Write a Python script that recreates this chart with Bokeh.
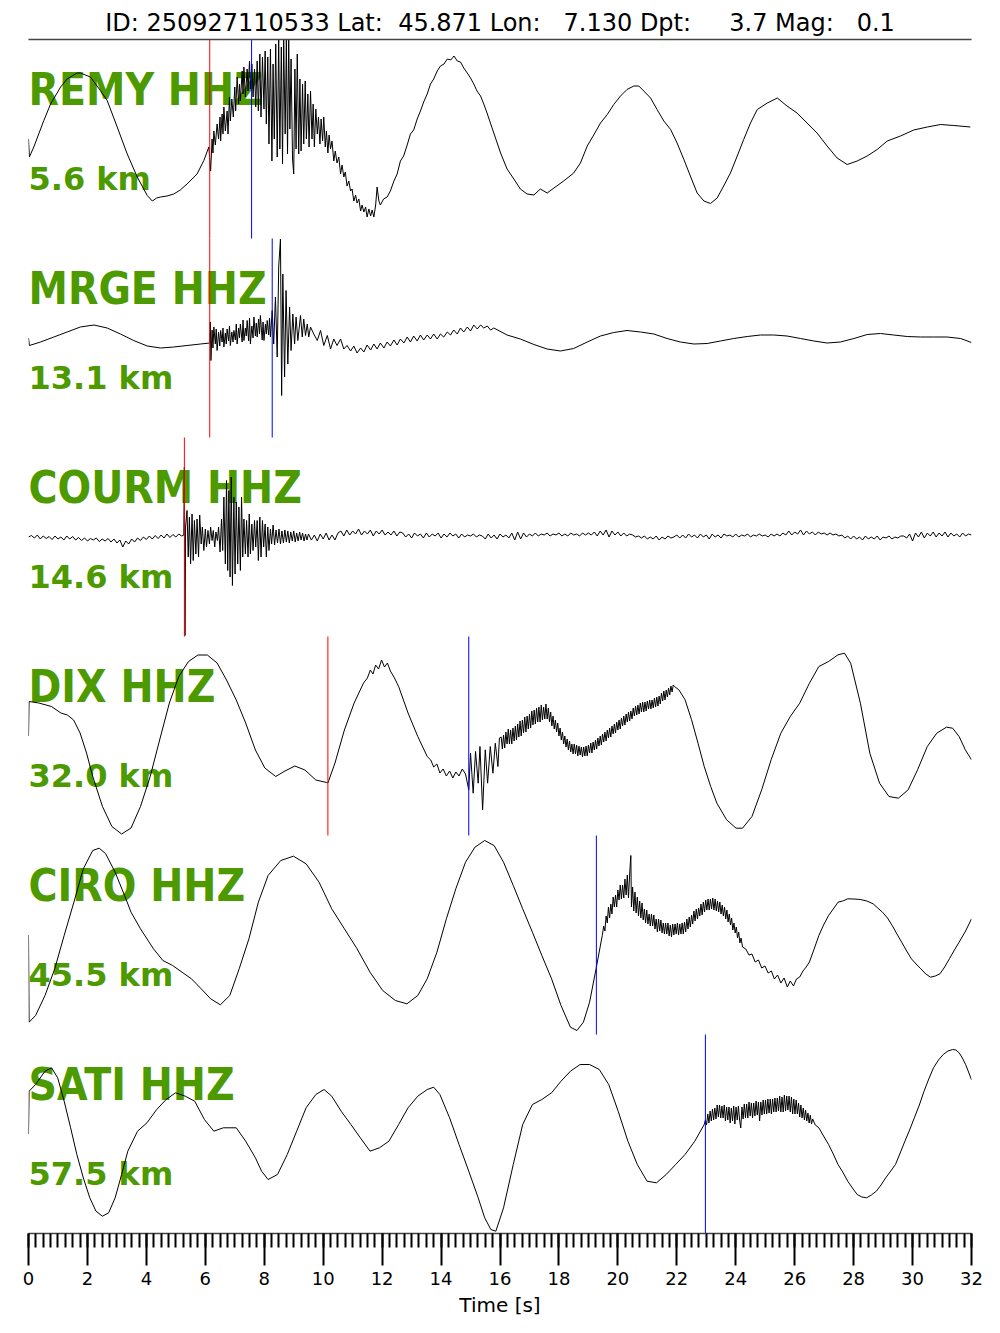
import numpy as np
from bokeh.plotting import figure
from bokeh.models import Range1d, FixedTicker, LinearAxis
from bokeh.core.properties import value
from bokeh.embed import file_html
from bokeh.resources import INLINE

# ---------------- data ----------------
NB = "\u00a0"   # keeps the padded spacing of the original title visible
TITLE = ("ID: 250927110533 Lat: " + NB + "45.871 Lon: " + NB * 2 + "7.130 Dpt: "
         + NB * 4 + "3.7 Mag: " + NB * 2 + "0.1")
STATIONS = ["REMY HHZ", "MRGE HHZ", "COURM HHZ", "DIX HHZ", "CIRO HHZ", "SATI HHZ"]
DISTANCES_KM = [5.6, 13.1, 14.6, 32.0, 45.5, 57.5]
P_PICKS = [6.15, 6.15, 5.29, 10.16, None, None]      # red
S_PICKS = [7.57, 8.27, None, 14.94, 19.27, 22.97]    # blue
X_TICKS = [0, 2, 4, 6, 8, 10, 12, 14, 16, 18, 20, 22, 24, 26, 28, 30, 32]
X_MINOR_STEP = 0.25
T_MAX = 32

# traces: (time [s], normalised amplitude, +-99.5 = band edge)
REMY = [
(0.0,0),(0.03,-18),(0.18,-8),(0.52,18.5),(0.75,35),(1.09,52),(1.31,60),(1.65,66),(1.76,66),(2.10,62),
(2.44,48.5),(2.67,38.5),(3.01,12),(3.35,-15),(3.69,-38),(4.03,-56.5),(4.20,-62),(4.35,-59),(4.48,-58),(4.70,-57),
(4.93,-55),(5.15,-51),(5.38,-45),(5.72,-35),(5.95,-21.5),(6.12,-8),(6.15,-20),(6.18,-32),(6.23,0),(6.26,-14),
(6.29,8),(6.34,-6),(6.40,15),(6.45,0),(6.50,22),(6.52,-2),(6.57,25),(6.60,5),(6.63,32),(6.68,8),
(6.74,28),(6.77,5),(6.82,42),(6.85,18),(6.90,40),(6.95,22),(7.00,52),(7.03,28),(7.08,62),(7.13,35),
(7.16,55),(7.19,38),(7.25,68),(7.28,45),(7.31,72),(7.36,42),(7.42,70),(7.45,48),(7.50,78),(7.53,50),
(7.58,75),(7.62,42),(7.67,70),(7.71,32),(7.76,78),(7.80,28),(7.85,85),(7.89,22),(7.94,82),(7.99,30),
(8.03,88),(8.07,15),(8.12,82),(8.16,-5),(8.21,90),(8.26,-22),(8.30,75),(8.34,0),(8.39,95),(8.44,-18),
(8.49,99),(8.53,-10),(8.58,92),(8.62,-25),(8.66,99),(8.71,5),(8.75,99),(8.79,-15),(8.83,99),(8.87,10),
(8.91,80),(8.96,-20),(9.00,-35),(9.04,70),(9.08,-10),(9.12,85),(9.17,-15),(9.21,60),(9.25,-12),(9.30,55),
(9.34,-5),(9.39,58),(9.43,0),(9.48,45),(9.52,-8),(9.57,48),(9.62,0),(9.66,35),(9.70,-8),(9.75,30),
(9.80,5),(9.84,22),(9.89,-5),(9.93,20),(9.98,-2),(10.02,22),(10.07,-8),(10.11,8),(10.16,-14),(10.20,4),
(10.25,-10),(10.30,-2),(10.36,-22),(10.41,-12),(10.47,-24),(10.53,-18),(10.59,-35),(10.64,-26),(10.70,-38),(10.75,-33),
(10.81,-47),(10.87,-42),(10.93,-52),(10.98,-50),(11.04,-62),(11.10,-56),(11.15,-64),(11.21,-60),(11.27,-72),(11.32,-66),
(11.38,-73),(11.44,-68),(11.49,-78),(11.55,-70),(11.61,-77),(11.66,-71),(11.72,-78),(11.78,-66),(11.83,-48),(11.89,-62),
(11.94,-66),(12.05,-60),(12.17,-58),(12.28,-52),(12.40,-42),(12.51,-35),(12.62,-22),(12.73,-17),(12.85,-6),(12.96,5),
(13.07,9),(13.19,20),(13.30,28),(13.41,37),(13.53,45),(13.64,55),(13.75,60),(13.87,68),(13.98,73),(14.10,75),
(14.21,80),(14.33,79),(14.44,83),(14.55,78),(14.66,77),(14.77,71),(14.89,66),(15.00,61),(15.11,55),(15.22,48),
(15.34,43),(15.45,35),(15.56,26),(15.79,6),(16.02,-14),(16.24,-30),(16.47,-40),(16.69,-50),(16.92,-55),(17.15,-56),
(17.37,-50),(17.60,-54),(17.83,-49),(18.16,-42),(18.50,-34),(18.73,-24),(18.96,-7),(19.18,4),(19.41,16),(19.64,24.5),
(19.86,34.5),(20.09,43),(20.31,49.5),(20.54,53),(20.71,53),(20.88,48),(21.11,41),(21.33,29.5),(21.56,18),(21.79,9.5),
(22.01,-4),(22.24,-20.5),(22.46,-37),(22.69,-54),(22.92,-62),(23.14,-64.5),(23.37,-59),(23.59,-47),(23.82,-34),(24.05,-17),
(24.27,-0.5),(24.50,16),(24.73,29.5),(25.07,36),(25.41,41),(25.74,33),(26.08,26),(26.42,16),(26.76,6),(27.10,-7),
(27.44,-19),(27.78,-25.5),(28.12,-22),(28.46,-17),(28.80,-10.5),(29.14,-2),(29.59,3),(30.04,9),(30.50,12),(30.95,14.5),
(31.40,13.5),(31.96,12),
]

MRGE = [
(0.0,0),(0.03,-7.5),(0.41,-4),(0.86,1),(1.31,6),(1.76,11),(2.22,13),(2.67,10),(3.12,4),(3.57,-2.5),
(4.03,-8),(4.48,-10),(4.93,-9),(5.38,-7.5),(5.84,-6),(6.15,-5),(6.17,16),(6.19,-22.5),(6.23,8),(6.26,-10),
(6.29,11),(6.34,-6),(6.37,9),(6.40,-12.5),(6.45,6),(6.49,-8),(6.52,7.5),(6.57,-4),(6.60,10),(6.63,-9),
(6.68,5),(6.71,-6),(6.74,9),(6.79,-3),(6.82,12),(6.85,-7.5),(6.90,6),(6.94,-4),(6.97,7.5),(7.02,-2),
(7.05,14),(7.08,-6),(7.13,10),(7.16,0),(7.19,14),(7.25,-4),(7.28,18),(7.31,-2.5),(7.36,10),(7.39,2),
(7.42,17.5),(7.47,-3),(7.50,20),(7.53,-6),(7.58,12),(7.62,0),(7.65,21),(7.70,2),(7.73,15),(7.76,1),
(7.81,19),(7.84,4),(7.87,22.5),(7.93,-2),(7.96,16),(7.99,-2.5),(8.04,14),(8.07,4),(8.10,17.5),(8.15,3),
(8.18,20),(8.21,1),(8.24,14),(8.27,27.5),(8.32,-6),(8.38,41),(8.44,-19),(8.49,71),(8.55,99),(8.59,-57.5),
(8.63,64),(8.69,-39),(8.74,47.5),(8.80,-26),(8.86,31),(8.91,-12.5),(8.97,24),(9.03,-6),(9.08,21),(9.14,-2.5),
(9.23,22.5),(9.29,1),(9.34,19),(9.40,2.5),(9.46,14),(9.51,1),(9.57,11),(9.68,4),(9.80,-2.5),(9.91,7.5),
(10.02,-7.5),(10.14,2.5),(10.25,-11),(10.36,-1),(10.47,-7.5),(10.59,-1),(10.70,-11),(10.81,-7.5),(10.93,-13),(11.04,-8),
(11.15,-15),(11.27,-10),(11.38,-14),(11.49,-7),(11.61,-12),(11.72,-6),(11.83,-11),(11.94,-5),(12.06,-10),(12.17,-4),
(12.28,-8),(12.40,-2),(12.51,-7),(12.62,-1),(12.74,-5),(12.85,1),(12.96,-4),(13.07,2),(13.19,-3),(13.30,3),
(13.41,-2),(13.53,3),(13.64,-1),(13.75,4),(13.87,-1),(13.98,4),(14.09,1),(14.21,6),(14.32,3),(14.43,8),
(14.55,4),(14.66,10),(14.77,6),(14.89,11),(15.00,7),(15.11,13),(15.23,9),(15.34,13),(15.45,10),(15.57,12),
(15.68,8),(15.79,10),(16.24,3),(16.69,-1),(17.15,-6.5),(17.60,-11),(18.05,-13),(18.50,-10.5),(18.96,-4),(19.41,2),
(19.86,5.5),(20.31,7.5),(20.77,6),(21.22,4),(21.67,-0.5),(22.12,-4),(22.58,-6),(23.03,-5.5),(23.48,-3),(23.93,-0.5),
(24.39,1.5),(24.84,3),(25.29,3),(25.74,2),(26.20,-0.5),(26.65,-3),(27.10,-5),(27.55,-4),(28.01,-0.5),(28.46,3.5),
(28.91,4.5),(29.36,3),(29.82,1.5),(30.27,1),(30.72,1),(31.17,1),(31.63,-0.5),(32.0,-4.5),
]

COURM = [
(0.0,0),(0.1,1.5),(0.2,-1),(0.3,2),(0.4,-2),(0.5,1),(0.6,-1.5),(0.7,0.5),(0.8,-2.5),(0.9,1),
(1.0,-2),(1.1,0),(1.2,-3),(1.3,1),(1.4,-2),(1.5,0.5),(1.6,-3),(1.7,-0.5),(1.8,-3.5),(1.9,-1),
(2.0,-4),(2.1,-1.5),(2.2,-3),(2.3,-1),(2.4,-4.5),(2.5,-2),(2.6,-4),(2.7,-1.5),(2.8,-5),(2.9,-2),
(3.0,-6),(3.1,-3),(3.2,-10),(3.3,-4),(3.4,-7),(3.5,-2),(3.6,-5),(3.7,-1),(3.8,-3.5),(3.9,0),
(4.0,-2.5),(4.1,1),(4.2,-2),(4.3,1.5),(4.4,-1.5),(4.5,2),(4.6,-1),(4.7,3),(4.8,-0.5),(4.9,2.5),
(5.0,0),(5.1,3),(5.2,1),
(5.27,2),(5.29,70),(5.31,-98.5),(5.33,10),(5.38,26.5),(5.42,-20),(5.46,20),(5.50,-27),(5.55,23),(5.59,-23.5),
(5.63,16.5),(5.68,-17),(5.72,18),(5.77,-20),(5.81,22),(5.86,-7),(5.90,10),(5.95,-13.5),(6.00,8),(6.04,-10),
(6.09,6.5),(6.14,-7),(6.18,10),(6.23,-3.5),(6.27,6.5),(6.32,-10),(6.36,5),(6.41,-3.5),(6.45,10),(6.50,-15),
(6.55,18),(6.59,-13.5),(6.63,40),(6.68,-27),(6.72,56.5),(6.76,-33.5),(6.80,46.5),(6.84,-40),(6.88,60),(6.92,-48.5),
(6.97,40),(7.01,-37),(7.05,35),(7.10,-27),(7.14,30),(7.19,-33.5),(7.23,40),(7.27,-20),(7.31,18),(7.36,-17),
(7.40,16.5),(7.45,-20),(7.49,23),(7.53,-17),(7.58,13),(7.62,-13.5),(7.67,16.5),(7.71,-10),(7.76,16.5),(7.80,-23.5),
(7.85,20),(7.89,-20),(7.94,16.5),(7.98,-10),(8.03,13),(8.07,-20),(8.12,10),(8.16,-13.5),(8.21,8),(8.25,-7),
(8.30,12),(8.35,-8),(8.40,7),(8.45,-6),(8.50,8),(8.55,-7),(8.60,6),(8.65,-6),(8.70,7),(8.75,-5),
(8.80,6),(8.85,-6),(8.90,5),(8.95,-4),(9.00,6),(9.05,-5),(9.10,4),(9.15,-4),(9.20,5),(9.25,-3),
(9.30,4),(9.35,-4),(9.40,3),(9.45,-3),
(9.5,3),(9.6,-3),(9.7,2),(9.8,-4),(9.9,3),(10.0,-2),(10.1,4),(10.2,-3),(10.3,2),(10.4,-3),(10.5,4),
(10.6,6),(10.7,1),(10.8,7),(10.9,2),(11.0,6),(11.1,3),(11.2,8),(11.3,2),(11.4,6),(11.5,3),
(11.6,7),(11.7,1),(11.8,6),(11.9,3),(12.0,7),(12.1,2),(12.2,5),(12.3,2),(12.4,6),(12.5,1),(12.6,5),
(12.7,4),(12.8,0),(12.9,3),(13.0,-1),(13.1,4),(13.2,1),(13.3,3),(13.4,-1),(13.5,4),(13.6,0),
(13.7,3),(13.8,1),(13.9,4),(14.0,-1),(14.1,3),(14.2,0),(14.3,4),(14.4,1),(14.5,3),(14.6,-1),
(14.7,3),(14.8,0),(14.9,2),(15.0,1),(15.1,3),(15.2,0),(15.3,2),
(15.4,1),(15.5,-2),(15.6,3),(15.7,-1),(15.8,2),(15.9,-2),(16.0,3),(16.1,0),(16.2,2),(16.3,-1),
(16.4,4),(16.5,-3),(16.6,5),(16.7,-2),(16.8,4),(16.9,0),(17.0,3),(17.1,1),(17.2,4),(17.3,1),
(17.4,3),(17.5,2),(17.6,4),(17.7,1),(17.8,3),(17.9,2),(18.0,4),(18.1,1),(18.2,3),(18.3,1),
(18.4,4),(18.5,2),(18.6,3),(18.7,1),(18.8,4),(18.9,2),
(19.0,4),(19.1,2),(19.2,5),(19.3,1),(19.4,6),(19.5,2),(19.6,7),(19.7,0),(19.8,6),(19.9,2),
(20.0,5),(20.1,1),(20.2,4),(20.3,1),(20.4,3),
(20.5,2),(20.6,0),(20.7,1),(20.8,-1),(20.9,1),(21.0,-2),(21.1,0),(21.2,-2),(21.3,1),(21.4,-3),
(21.5,0),(21.6,-2),(21.7,1),(21.8,-1),(21.9,0),
(22.0,2),(22.1,-1),(22.2,2),(22.3,-1),(22.4,3),(22.5,0),(22.6,2),(22.7,-1),(22.8,3),(22.9,0),
(23.0,2),(23.1,-2),(23.2,3),(23.3,0),(23.4,2),(23.5,-1),(23.6,3),(23.7,1),(23.8,2),(23.9,0),
(24.0,3),(24.1,0),(24.2,2),(24.3,1),(24.4,3),(24.5,0),(24.6,2),(24.7,1),(24.8,3),(24.9,1),
(25.0,2),(25.1,0),(25.2,3),(25.3,1),(25.4,3),(25.5,1),
(25.6,4),(25.7,2),(25.8,6),(25.9,2),(26.0,5),(26.1,3),(26.2,7),(26.3,2),(26.4,6),(26.5,3),
(26.6,5),(26.7,2),(26.8,5),(26.9,3),(27.0,4),(27.1,2),(27.2,4),(27.3,2),(27.4,3),(27.5,1),
(27.6,2),(27.7,-1),(27.8,1),(27.9,-2),(28.0,1),(28.1,-2),(28.2,0),(28.3,-3),(28.4,1),(28.5,-2),
(28.6,0),(28.7,-2),(28.8,1),(28.9,-3),(29.0,0),(29.1,-1),(29.2,1),(29.3,-2),(29.4,0),(29.5,-1),(29.6,1),
(29.7,1),(29.8,-1),(29.9,3),(30.0,-4),(30.1,4),(30.2,0),(30.3,5),(30.4,-1),(30.5,4),(30.6,1),
(30.7,5),(30.8,0),(30.9,4),(31.0,1),(31.1,5),(31.2,0),(31.3,4),(31.4,1),(31.5,3),(31.6,0),
(31.7,4),(31.8,1),(31.9,3),(32.0,2),
]

DIX = [
(0.0,0),(0.02,34.5),(0.35,33),(0.78,29.5),(1.10,23),(1.32,21),(1.53,16),(1.75,3),(1.97,-17),(2.18,-40.5),
(2.51,-70.5),(2.83,-90.5),(3.16,-98),(3.48,-92),(3.80,-70.5),(4.13,-40.5),(4.45,-4),(4.78,33),(5.10,59.5),(5.43,74.5),
(5.75,81),(6.07,81),(6.40,73),(6.72,56),(7.05,36),(7.37,13),(7.70,-14),(8.02,-32),(8.39,-40.5),(8.67,-35.5),
(9.04,-30),(9.38,-34),(9.75,-44),(10.12,-46.5),(10.16,-47),(10.40,-27),(10.72,6),(11.05,33),(11.37,53),(11.50,58),
(11.60,66),(11.69,62),(11.78,71),(11.88,67),(11.98,76),(12.08,69),(12.18,73),(12.28,65),(12.42,58),(12.56,49.5),
(12.88,23),(13.21,-0.5),(13.53,-20.5),(13.65,-24),(13.75,-31),(13.86,-28),(13.96,-37),(14.07,-33),(14.18,-40),(14.29,-35),
(14.40,-42),(14.50,-36),(14.61,-40),(14.72,-33),(14.83,-38),(14.94,-53.8),(15.00,-17.2),(15.09,-57.2),(15.17,-15.5),(15.26,-47.2),
(15.32,-10.5),(15.41,-73.8),(15.50,-13.8),(15.58,-47.2),(15.67,-10.5),(15.76,-37.2),(15.84,-7.2),(15.93,-30.5),(15.98,-2),
(16.04,-1),(16.08,-13),(16.12,1),(16.16,-12),(16.20,4),(16.24,-8),(16.28,7),(16.32,-8),(16.36,6),(16.40,-8),
(16.44,8),(16.48,-5),(16.52,10),(16.56,-4),(16.60,12),(16.64,-1),(16.68,15),(16.72,0),(16.76,16),(16.80,3),
(16.84,19),(16.88,4),(16.92,20),(16.96,7),(17.00,22),(17.04,8),(17.08,25),(17.12,11),(17.16,26),(17.20,12),
(17.24,28),(17.28,14),(17.32,29),(17.36,14),(17.40,31),(17.44,16),(17.48,29),(17.52,17),(17.56,32),(17.60,17),
(17.64,28),(17.68,14),(17.72,24),(17.76,10),(17.80,20),(17.84,7),(17.88,16),(17.92,4),(17.96,13),(18.00,0),
(18.04,8),(18.08,-4),(18.12,4),(18.16,-8),(18.20,0),(18.24,-11),(18.28,-3),(18.32,-14),(18.36,-5),(18.40,-16),
(18.44,-8),(18.48,-18),(18.52,-8),(18.56,-18),(18.60,-9),(18.64,-20),(18.68,-10),(18.72,-19),(18.76,-11),(18.80,-21),
(18.84,-11),(18.88,-20),(18.92,-10),(18.96,-20),(19.00,-9),(19.04,-17),(19.08,-7),(19.12,-17),(19.16,-6),(19.20,-14),
(19.24,-4),(19.28,-13),(19.32,-2),(19.36,-10),(19.40,0),(19.44,-9),(19.48,2),(19.52,-6),(19.56,4),(19.60,-5),
(19.64,6),(19.68,-2),(19.72,8),(19.76,-1),(19.80,10),(19.84,2),(19.88,12),(19.92,3),(19.96,14),(20.00,6),
(20.04,16),(20.08,7),(20.12,18),(20.16,10),(20.20,20),(20.24,11),(20.28,22),(20.32,14),(20.36,24),(20.40,15),
(20.44,25),(20.48,17),(20.52,28),(20.56,20),(20.60,30),(20.64,21),(20.68,31),(20.72,22),(20.76,33),(20.80,24),
(20.84,34),(20.88,24),(20.92,34),(20.96,25),(21.00,35),(21.04,27),(21.08,36),(21.12,27),(21.16,36),(21.20,28),
(21.24,38),(21.28,29),(21.32,39),(21.36,30),(21.40,40),(21.44,32),(21.48,43),(21.52,35),(21.56,45),(21.60,36),
(21.64,46),(21.68,39),(21.72,48),(21.76,41),(21.80,50),(21.84,44),(21.88,51),(21.92,49.5),
(22.07,46.2),(22.28,36.2),(22.50,16.2),(22.72,-7.2),(22.93,-30.5),(23.15,-50.5),
(23.36,-67.2),(23.69,-83.8),(24.01,-92.2),(24.23,-92.2),(24.55,-80.5),(24.88,-53.8),(25.20,-23.8),(25.53,2.8),(25.85,19.5),(26.17,32.8),
(26.50,52.8),(26.82,69.5),(27.15,74.5),(27.47,81.2),(27.69,82.8),(27.90,72.8),(28.23,32.8),(28.55,-17.2),(28.88,-47.2),(29.20,-60.5),
(29.52,-62.2),(29.85,-53.8),(30.17,-33.8),(30.50,-10.5),(30.82,2.8),(31.15,8.8),(31.36,7.8),(31.58,-0.5),(31.79,-13.8),(32.0,-23.8),
]

CIRO = [
(0.0,0),(0.02,-87.2),(0.24,-80.5),(0.56,-60.5),(0.89,-33.8),(1.21,-0.5),(1.54,32.8),(1.86,66.2),(2.18,84.5),(2.40,86.8),
(2.62,81.2),(2.94,62.8),(3.26,39.5),(3.48,22.8),(3.80,6.2),(4.24,-13.8),(4.56,-25.5),(4.89,-30.5),(5.21,-37.2),(5.53,-43.8),
(5.86,-53.8),(6.18,-63.8),(6.51,-69.8),(6.83,-60.5),(7.15,-33.8),(7.48,-3.8),(7.80,32.8),(8.13,59.5),(8.56,74.5),(8.99,78.8),
(9.42,71.2),(9.86,52.8),(10.29,26.2),(10.72,6.2),(11.15,-13.8),(11.59,-37.2),(12.02,-55.5),(12.45,-65.5),(12.84,-68.8),(13.21,-60.5),
(13.53,-43.8),(13.86,-17.2),(14.18,16.2),(14.50,46.2),(14.83,72.8),(15.15,87.8),(15.48,94.5),(15.80,89.5),(16.12,72.8),(16.45,49.5),
(16.77,26.2),(17.10,2.8),(17.42,-20.5),(17.75,-43.8),(18.07,-70.5),(18.39,-92.2),(18.61,-95.5),(18.83,-87.2),(19.04,-67.2),(19.26,-33.8),
(19.47,-0.5),(19.52,9),(19.56,4),(19.60,19),(19.64,12),(19.68,28),(19.72,17),(19.76,31),(19.80,21),(19.84,38),
(19.88,28),(19.92,40),(19.96,28),(20.00,45),(20.04,35),(20.08,50),(20.12,36),(20.16,50),(20.20,37),(20.24,56),
(20.28,40),(20.32,60),(20.36,37),(20.40,61),(20.44,79.5),(20.46,28),(20.50,48),(20.54,24),(20.58,43),(20.62,22),
(20.66,38),(20.70,19),(20.74,34),(20.78,17),(20.82,32),(20.86,15),(20.90,26),(20.94,12),(20.98,25),(21.02,11),
(21.06,21),(21.10,9),(21.14,21),(21.18,9),(21.22,20),(21.26,6),(21.30,16),(21.34,3),(21.38,16),(21.42,4),
(21.46,15),(21.50,2),(21.54,12),(21.58,1),(21.62,12),(21.66,1),(21.70,12),(21.74,-1),(21.78,10),(21.82,-2),
(21.86,11),(21.90,0),(21.94,11),(21.98,1),(22.02,12),(22.06,0),(22.10,11),(22.14,1),(22.18,12),(22.22,1),
(22.26,13),(22.30,3),(22.34,16),(22.38,6),(22.42,18),(22.46,8),(22.50,20),(22.54,11),(22.58,24),(22.62,14),
(22.66,26),(22.70,16),(22.74,27),(22.78,19),(22.82,31),(22.86,20),(22.90,33),(22.94,23),(22.98,35),(23.02,25),
(23.06,36),(23.10,25),(23.14,36),(23.18,26),(23.22,37),(23.26,25),(23.30,36),(23.34,24),(23.38,34),(23.42,23),
(23.46,33),(23.50,21),(23.54,30),(23.58,19),(23.62,28),(23.66,16),(23.70,25),(23.74,13),(23.78,21),(23.82,10),
(23.86,17),(23.90,5),(23.94,12),(23.98,2),(24.02,8),(24.06,-3),(24.10,3),(24.14,-8),(24.18,-3),(24.23,-12),
(24.34,-14),(24.45,-20),(24.55,-19),
(24.66,-27),(24.77,-25),(24.88,-33),(24.99,-31),(25.10,-38),(25.21,-36),(25.31,-44),(25.42,-40),(25.53,-48),(25.64,-43),
(25.75,-52),(25.85,-46),(25.96,-51),(26.06,-44),(26.17,-42),(26.28,-36),(26.39,-32),(26.50,-27),(26.66,-14),(26.82,-0.5),
(26.98,10),(27.15,19.5),(27.31,26),(27.47,32.8),(27.63,34),(27.80,36.2),(28.01,36),(28.23,35.5),(28.45,34),(28.66,31.2),
(28.82,27),(28.98,22.8),(29.15,17),(29.31,9.5),(29.47,1),(29.63,-7.2),(29.80,-16),(29.96,-23.8),(30.12,-29),(30.28,-33.8),
(30.45,-39),(30.61,-42.2),(30.77,-41),(30.93,-38.8),(31.09,-32),(31.25,-23.8),(31.42,-15),(31.58,-7.2),(31.80,4),(32.0,16.2),
]

SATI = [
(0.0,0),(0.02,42.8),(0.24,49.5),(0.56,62.8),(0.78,66.2),(0.99,56.2),(1.21,32.8),(1.43,6.2),(1.64,-20.5),(1.86,-43.8),
(2.08,-63.8),(2.29,-77.2),(2.51,-82.2),(2.72,-78.8),(2.94,-63.8),(3.16,-40.5),(3.37,-17.2),(3.70,2.8),(4.02,11.2),(4.35,24.5),
(4.67,34.5),(4.99,41.2),(5.32,37.8),(5.64,32.8),(5.97,14.5),(6.29,2.8),(6.61,6.2),(7.05,6.2),(7.37,-7.2),(7.70,-23.8),
(7.91,-37.2),(8.13,-45.5),(8.45,-40.5),(8.78,-20.5),(9.10,2.8),(9.42,26.2),(9.75,39.5),(10.03,44.5),(10.29,37.8),(10.61,22.8),
(10.94,9.5),(11.26,-3.8),(11.59,-17.2),(11.91,-13.8),(12.23,-7.2),(12.56,9.5),(12.88,26.2),(13.21,37.8),(13.53,44.5),(13.75,46.8),
(13.96,39.5),(14.29,16.2),(14.61,-10.5),(14.94,-37.2),(15.26,-63.8),(15.48,-83.8),(15.69,-95.5),(15.86,-97.2),(16.12,-73.8),(16.45,-30.5),
(16.77,9.5),(17.10,29.5),(17.42,34.5),(17.75,41.2),(18.07,52.8),(18.39,62.8),(18.72,69.5),(19.04,69.5),(19.37,64.5),(19.69,49.5),
(20.01,22.8),(20.34,-7.2),(20.66,-30.5),(20.99,-47.2),(21.31,-48.8),(21.64,-40.5),(21.96,-30.5),(22.28,-20.5),(22.61,-7.2),(22.93,9.5),
(22.97,14),(23.01,9),(23.05,20),(23.09,11),(23.13,23),(23.17,13),(23.21,25),(23.25,14),(23.29,26),(23.33,15),
(23.37,29),(23.41,17),(23.45,29),(23.49,16),(23.53,28),(23.57,16),(23.61,29),(23.65,13),(23.69,27),(23.73,14),
(23.77,27),(23.81,11),(23.85,26),(23.89,13),(23.93,28),(23.97,10),(24.01,27),(24.05,14),(24.09,28),(24.13,14),
(24.17,6),(24.21,27),(24.25,15),(24.29,30),(24.33,16),(24.37,30),(24.41,16),(24.45,32),(24.49,18),(24.53,31),
(24.57,16),(24.61,31),(24.65,18),(24.69,33),(24.73,19),(24.77,32),(24.81,13),(24.85,32),(24.89,19),(24.93,34),
(24.97,20),(25.01,34),(25.05,20),(25.09,35),(25.13,21),(25.17,35),(25.21,20),(25.25,35),(25.29,22),(25.33,36),
(25.37,22),(25.41,36),(25.45,23),(25.49,38),(25.53,22),(25.57,37),(25.61,22),(25.65,39),(25.69,23),(25.73,38),
(25.77,24),(25.81,38),(25.85,22),(25.89,37),(25.93,20),(25.97,35),(26.01,20),(26.05,34),(26.09,20),(26.13,31),
(26.17,17),(26.21,29),(26.25,16),(26.29,26),(26.33,14),(26.37,24),(26.41,13),(26.45,21),(26.49,11),(26.53,19),
(26.57,10),(26.61,15),(26.70,9),(26.82,6.2),(26.98,-2),(27.15,-10.5),
(27.31,-20),(27.47,-30.5),(27.63,-38),(27.80,-47.2),(27.96,-54),(28.12,-60.5),(28.28,-63),(28.44,-63.8),(28.60,-61),(28.77,-57.2),
(28.93,-51),(29.09,-43.8),(29.26,-37),(29.42,-30.5),(29.58,-19),(29.74,-7.2),(29.90,4),(30.06,16.2),(30.23,29),(30.39,42.8),
(30.55,55),(30.71,66.2),(30.88,74),(31.04,79.5),(31.20,83),(31.36,84.5),(31.47,84),(31.58,81.2),(31.69,76),(31.80,69.5),
(31.90,62),(32.0,54.2),
]

TRACES = [REMY, MRGE, COURM, DIX, CIRO, SATI]

# ---------------- layout / style ----------------
BAND = 199.0          # height of one station band (data units == px)
N = len(STATIONS)
GREEN = "#4C9900"
FONT = "DejaVu Sans"

p = figure(width=992, height=1325,
           x_range=Range1d(0, T_MAX), y_range=Range1d(-N * BAND, 0),
           output_backend="svg", toolbar_location=None, title=None,
           y_axis_location=None,
           min_border_left=28, min_border_right=21,
           min_border_top=39, min_border_bottom=92)
p.outline_line_color = None
p.xgrid.visible = False
p.ygrid.visible = False
p.background_fill_color = "white"
p.border_fill_color = "white"

# bottom time axis
xa = p.xaxis[0]
xa.ticker = FixedTicker(ticks=X_TICKS,
                        minor_ticks=list(np.arange(0, T_MAX + 1e-9, X_MINOR_STEP)))
xa.major_tick_out = 32
xa.major_tick_in = 0
xa.minor_tick_out = 14
xa.minor_tick_in = 0
xa.major_tick_line_width = 2
xa.minor_tick_line_width = 2
xa.major_tick_line_color = "black"
xa.minor_tick_line_color = "black"
xa.axis_line_width = 1.5
xa.axis_line_color = "#444444"
xa.major_label_text_font = FONT
xa.major_label_text_font_size = "18px"
xa.major_label_text_color = "black"
xa.major_label_standoff = 6
xa.axis_label = "Time [s]"
xa.axis_label_text_font = FONT
xa.axis_label_text_font_size = "20px"
xa.axis_label_text_font_style = "normal"
xa.axis_label_text_color = "black"
xa.axis_label_standoff = 5

# top line + title (as label of an above axis without ticks)
top = LinearAxis(ticker=FixedTicker(ticks=[]),
                 major_tick_out=0, major_tick_in=0, minor_tick_out=0, minor_tick_in=0,
                 axis_line_color="#444444", axis_line_width=1.5,
                 axis_label=TITLE, axis_label_standoff=3,
                 axis_label_text_font=FONT, axis_label_text_font_size="24px",
                 axis_label_text_font_style="normal", axis_label_text_color="black")
p.add_layout(top, "above")

band_tops = [-k * BAND for k in range(N)]

# station and distance labels (below the traces)
p.text(x=[0] * N, y=[bt - 50 for bt in band_tops], text=STATIONS,
       text_font=value("DejaVu Sans Condensed, DejaVu Sans"), text_font_style="bold",
       text_font_size="44px", text_color=GREEN,
       text_baseline="alphabetic", text_align="left")
p.text(x=[0] * N, y=[bt - 139 for bt in band_tops],
       text=[f"{d:.1f} km" for d in DISTANCES_KM],
       text_font=value(FONT), text_font_style="bold",
       text_font_size="32px", text_color=GREEN,
       text_baseline="alphabetic", text_align="left")

# traces
for k, tr in enumerate(TRACES):
    center = band_tops[k] - BAND / 2
    t = [s[0] for s in tr]
    y = [center + s[1] for s in tr]
    p.line(t, y, line_color="black", line_width=1)

# picks
for picks, col in ((P_PICKS, "red"), (S_PICKS, "blue")):
    xs = [v for v in picks if v is not None]
    y0 = [band_tops[k] for k, v in enumerate(picks) if v is not None]
    y1 = [band_tops[k] - BAND for k, v in enumerate(picks) if v is not None]
    p.segment(x0=xs, y0=y0, x1=xs, y1=y1, line_color=col, line_width=1)

open("out.html", "w").write(file_html(p, INLINE))
